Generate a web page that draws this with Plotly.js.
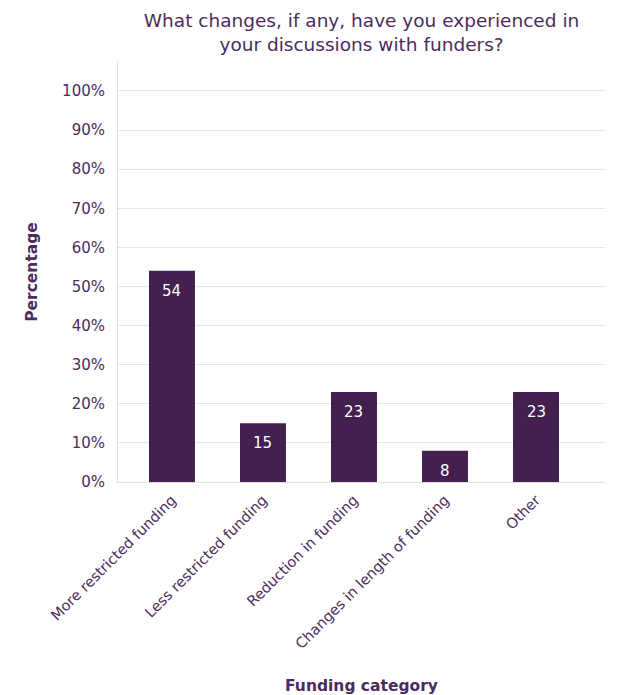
<!DOCTYPE html>
<html>
<head>
<meta charset="utf-8">
<script src="https://cdn.plot.ly/plotly-3.0.1.min.js"></script>
<style>html,body{margin:0;padding:0;background:#fff;}#chart{width:618px;height:695px;}</style>
</head>
<body>
<div id="chart"></div>
<script>
const categories = ["More restricted funding", "Less restricted funding", "Reduction in funding", "Changes in length of funding", "Other"];
const values = [54, 15, 23, 8, 23];
const tickVals = [0, 10, 20, 30, 40, 50, 60, 70, 80, 90, 100];
const tickLabels = ["0%", "10%", "20%", "30%", "40%", "50%", "60%", "70%", "80%", "90%", "100%"];

const FONT = "DejaVu Sans, Verdana, sans-serif";
const TXT = "#4b2c5c";
const xs = categories.map((c, i) => i);

Plotly.newPlot("chart", [{
  type: "bar",
  x: xs,
  y: values,
  width: 0.505,
  marker: {color: "#43204f"},
  hoverinfo: "skip"
}], {
  width: 618, height: 695,
  margin: {l: 118, r: 13, t: 62, b: 213},
  paper_bgcolor: "#fff", plot_bgcolor: "#fff",
  font: {family: FONT, color: TXT},
  title: {text: "What changes, if any, have you experienced in<br>your discussions with funders?", x: 0.585, xanchor: "center", y: 0.961, yanchor: "top", font: {size: 18.5, color: TXT, family: FONT}},
  annotations: values.map((v, i) => ({
    x: i, y: v, xref: "x", yref: "y", text: String(v), showarrow: false,
    yanchor: "middle", yshift: -20,
    font: {color: "#ffffff", size: 15, family: FONT}
  })),
  xaxis: {
    tickmode: "array", tickvals: xs, ticktext: categories,
    range: [-0.593, 4.758],
    tickangle: -45, tickfont: {size: 14.5, color: TXT},
    ticklabelstandoff: 3,
    showgrid: false, zeroline: false, showline: true, linecolor: "#e3dfe7", linewidth: 1,
    ticks: "", ticklen: 0,
    title: {text: "<b>Funding category</b>", font: {size: 15.5, color: TXT}, standoff: 40}
  },
  yaxis: {
    range: [0, 107.4], tickmode: "array", tickvals: tickVals, ticktext: tickLabels,
    tickfont: {size: 15, color: TXT},
    ticklabelstandoff: 9,
    showgrid: true, gridcolor: "#e6e2ea", gridwidth: 1,
    zeroline: false, showline: true, linecolor: "#e3dfe7", linewidth: 1,
    ticks: "", ticklen: 0,
    title: {text: "<b>Percentage</b>", font: {size: 15.5, color: TXT}, standoff: 20}
  },
  showlegend: false
}, {displayModeBar: false, staticPlot: true});
</script>
</body>
</html>
